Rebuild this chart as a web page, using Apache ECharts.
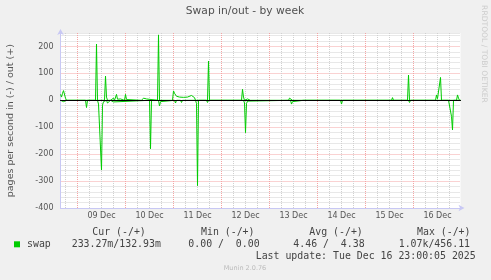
<!DOCTYPE html>
<html>
<head>
<meta charset="utf-8">
<script src="https://cdn.jsdelivr.net/npm/echarts@6/dist/echarts.min.js"></script>
<style>
html,body{margin:0;padding:0;background:#F0F0F0;}
#c{width:491px;height:280px;}
</style>
</head>
<body>
<div id="c"></div>
<script>
// Time axis: hours since 09 Dec 2025 00:00
const xMin = -8.5;
const xMax = 191.5;
const yMin = -400;
const yMax = 250;
const dayLabels = ['09 Dec', '10 Dec', '11 Dec', '12 Dec', '13 Dec', '14 Dec', '15 Dec', '16 Dec'];
const dayLabelHours = [12, 36, 60, 84, 108, 132, 156, 180];
const dayLineHours = [0, 24, 48, 72, 96, 120, 144, 168];
const gridHours = [-6, 0, 6, 12, 18, 24, 30, 36, 42, 48, 54, 60, 66, 72, 78, 84, 90, 96, 102, 108,
  114, 120, 126, 132, 138, 144, 150, 156, 162, 168, 174, 180, 186];
const yTickLabels = [-400, -300, -200, -100, 0, 100, 200];

// swap out (pages/s, plotted positive)
const outHours = [-8.5, -8, -7.5, -7, -6.5, -6, -5.5,
  9, 9.5, 10,
  13.5, 14, 14.5, 15,
  16.5, 17, 17.5, 18, 18.5,
  19, 19.5, 20, 20.5,
  21, 21.5, 22,
  23.5, 24, 24.5, 25,
  32, 32.5, 33, 33.5, 34, 34.5, 35, 35.5,
  40, 40.5, 41,
  47.5, 48, 48.5, 49, 49.5, 50, 51, 52, 53, 54, 55, 56, 57, 58, 58.5, 59,
  65, 65.5, 66,
  82, 82.5, 83, 83.5,
  84.5, 85, 86, 86.5,
  105.5, 106, 106.5, 107, 107.5,
  122, 122.5, 123,
  157, 157.5, 158,
  165, 165.5, 166,
  179, 179.5, 180, 180.5,
  181, 181.5, 182,
  189.5, 190, 190.5, 191, 191.5];
const outValues = [22, 12, 26, 36, 42, 8, 0,
  0, 209, 0,
  0, 90, 12, 0,
  0, 6, 3, 8, 0,
  0, 22, 4, 0,
  0, 5, 0,
  0, 22, 3, 0,
  0, 6, 8, 4, 7, 5, 8, 0,
  0, 243, 0,
  0, 35, 26, 20, 15, 14, 12, 10, 11, 8, 12, 10, 18, 12, 10, 0,
  0, 146, 0,
  0, 41, 12, 0,
  0, 5, 3, 0,
  0, 8, 13, 5, 0,
  0, 5, 0,
  0, 10, 0,
  0, 94, 0,
  0, 20, 6, 0,
  0, 85, 0,
  0, 20, 8, 0, 0];

// swap in (pages/s, plotted negative)
const inHours = [-8.5, -7.5, -7, -6, -5.5,
  4, 4.5, 5,
  10, 10.5, 11, 11.5, 12, 12.5, 13, 13.5,
  14.5, 15, 15.5, 16, 16.5,
  17.5, 18, 18.5,
  36, 36.5, 37,
  40.5, 41, 41.5, 42,
  48.5, 49, 49.5,
  51.5, 52, 52.5,
  54, 54.5, 55,
  59, 59.5, 60, 60.5,
  64.5, 65, 65.5,
  83, 83.5, 84, 84.5, 85, 85.5,
  106.5, 107, 107.5, 108,
  113, 113.5, 114,
  120, 120.5, 121,
  131.5, 132, 132.5,
  140, 140.5, 141,
  150.5, 151, 151.5,
  152.5, 153, 153.5,
  154.5, 155, 155.5,
  165.5, 166, 166.5,
  184, 184.5, 185,
  185.5, 186, 186.5, 187, 187.5, 188, 191.5];
const inValues = [0, 0, 5, 6, 0,
  0, 27, 0,
  0, 14, 12, 15, 259, 18, 5, 0,
  0, 10, 4, 8, 0,
  0, 6, 0,
  0, 180, 0,
  0, 21, 5, 0,
  0, 10, 0,
  0, 8, 0,
  0, 6, 0,
  0, 12, 317, 0,
  0, 8, 0,
  0, 10, 120, 12, 3, 0,
  0, 14, 5, 0,
  0, 5, 0,
  0, 7, 0,
  0, 14, 0,
  0, 3, 0,
  0, 5, 0,
  0, 5, 0,
  0, 5, 0,
  0, 8, 0,
  0, 7, 0,
  0, 7, 5, 60, 110, 0, 0];

const GREEN = '#00CC00';
const RED = '#F4A4A4';
const GRAY = '#D0D0D0';
const AXIS = '#C8C8F4';

const outData = outHours.map((h, i) => [h, outValues[i]]);
const inData = inHours.map((h, i) => [h, -inValues[i]]);
const gridLineData = gridHours.map(h => [h, dayLineHours.indexOf(h) >= 0 ? 1 : 0]);

const chart = echarts.init(document.getElementById('c'), null, {renderer: 'canvas'});
const option = {
  backgroundColor: '#F0F0F0',
  animation: false,
  grid: {left: 60.5, top: 33, width: 400, height: 175, show: true, backgroundColor: '#FFFFFF', borderWidth: 0},
  xAxis: [
    {
      type: 'value', min: xMin, max: xMax, position: 'bottom',
      axisLine: {onZero: false, lineStyle: {color: AXIS, width: 1}, symbol: ['none', 'arrow'], symbolSize: [5, 6], symbolOffset: [0, 4]},
      axisTick: {show: false},
      splitLine: {show: false},
      axisLabel: {
        customValues: dayLabelHours,
        formatter: function (v) { const i = dayLabelHours.indexOf(v); return i >= 0 ? dayLabels[i] : ''; },
        fontSize: 8, color: '#555', margin: 4, fontFamily: 'DejaVu Sans'
      }
    },
    {
      type: 'value', min: xMin, max: xMax, position: 'top', z: 10,
      axisLine: {onZero: true, lineStyle: {color: '#000000', width: 1}},
      axisTick: {show: false},
      axisLabel: {show: false},
      splitLine: {show: false}
    }
  ],
  yAxis: {
    type: 'value', min: yMin, max: yMax, interval: 20,
    axisLine: {show: true, onZero: false, lineStyle: {color: AXIS, width: 1}, symbol: ['none', 'arrow'], symbolSize: [5, 6], symbolOffset: [0, 4]},
    axisTick: {show: false},
    axisLabel: {
      formatter: function (v) { return yTickLabels.indexOf(v) >= 0 ? String(v) : ''; },
      fontSize: 8, color: '#555', margin: 7, fontFamily: 'DejaVu Sans'
    },
    splitLine: {show: true, lineStyle: {color: [RED, GRAY, GRAY, GRAY, GRAY], type: [1, 1], width: 1}}
  },
  series: [
    {
      type: 'custom', z: 1, silent: true, xAxisIndex: 0, yAxisIndex: 0,
      data: gridLineData,
      renderItem: function (params, api) {
        const h = api.value(0);
        const isDay = api.value(1) === 1;
        const p1 = api.coord([h, yMax]);
        const p2 = api.coord([h, yMin]);
        return {
          type: 'line', silent: true,
          shape: {x1: p1[0], y1: p1[1], x2: p2[0], y2: p2[1]},
          style: {stroke: isDay ? RED : GRAY, lineWidth: 1, lineDash: [1, 1], fill: null}
        };
      }
    },
    {
      name: 'swap in', type: 'line', z: 3, data: inData, symbol: 'none', silent: true,
      lineStyle: {color: GREEN, width: 1}
    },
    {
      name: 'swap out', type: 'line', z: 3, data: outData, symbol: 'none', silent: true,
      lineStyle: {color: GREEN, width: 1}
    }
  ],
  graphic: [
    {type: 'text', x: 245, y: 11.5, style: {text: 'Swap in/out - by week', font: '10.7px "DejaVu Sans"', fill: '#505050', align: 'center', verticalAlign: 'middle'}},
    {type: 'text', x: 10.8, y: 120.7, rotation: Math.PI / 2, style: {text: 'pages per second in (-) / out (+)', font: '9.5px "DejaVu Sans"', fill: '#555', align: 'center', verticalAlign: 'middle'}},
    {type: 'text', x: 483.5, y: 54, rotation: -Math.PI / 2, style: {text: 'RRDTOOL / TOBI OETIKER', font: '7.6px "DejaVu Sans"', fill: '#CCCCCC', align: 'center', verticalAlign: 'middle'}},
    {type: 'text', x: 92.3, y: 232.7, style: {text: 'Cur (-/+)', font: '9.9px "DejaVu Sans Mono"', fill: '#444', align: 'left', verticalAlign: 'middle'}},
    {type: 'text', x: 201, y: 232.7, style: {text: 'Min (-/+)', font: '9.9px "DejaVu Sans Mono"', fill: '#444', align: 'left', verticalAlign: 'middle'}},
    {type: 'text', x: 309.3, y: 232.7, style: {text: 'Avg (-/+)', font: '9.9px "DejaVu Sans Mono"', fill: '#444', align: 'left', verticalAlign: 'middle'}},
    {type: 'text', x: 417, y: 232.7, style: {text: 'Max (-/+)', font: '9.9px "DejaVu Sans Mono"', fill: '#444', align: 'left', verticalAlign: 'middle'}},
    {type: 'rect', shape: {x: 14, y: 241.3, width: 6, height: 6}, style: {fill: GREEN}},
    {type: 'text', x: 27, y: 244.3, style: {text: 'swap', font: '9.9px "DejaVu Sans Mono"', fill: '#444', align: 'left', verticalAlign: 'middle'}},
    {type: 'text', x: 71.7, y: 244.3, style: {text: '233.27m/132.93m', font: '9.9px "DejaVu Sans Mono"', fill: '#444', align: 'left', verticalAlign: 'middle'}},
    {type: 'text', x: 188.3, y: 244.3, style: {text: '0.00 /  0.00', font: '9.9px "DejaVu Sans Mono"', fill: '#444', align: 'left', verticalAlign: 'middle'}},
    {type: 'text', x: 293.3, y: 244.3, style: {text: '4.46 /  4.38', font: '9.9px "DejaVu Sans Mono"', fill: '#444', align: 'left', verticalAlign: 'middle'}},
    {type: 'text', x: 398.7, y: 244.3, style: {text: '1.07k/456.11', font: '9.9px "DejaVu Sans Mono"', fill: '#444', align: 'left', verticalAlign: 'middle'}},
    {type: 'text', x: 255.7, y: 256.3, style: {text: 'Last update: Tue Dec 16 23:00:05 2025', font: '9.9px "DejaVu Sans Mono"', fill: '#444', align: 'left', verticalAlign: 'middle'}},
    {type: 'text', x: 245, y: 268.3, style: {text: 'Munin 2.0.76', font: '6.5px "DejaVu Sans"', fill: '#BBBBBB', align: 'center', verticalAlign: 'middle'}}
  ]
};
chart.setOption(option);
</script>
</body>
</html>
